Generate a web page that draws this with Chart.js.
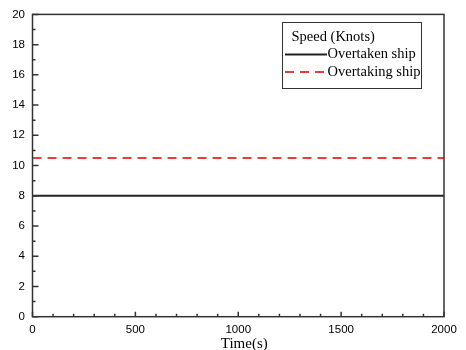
<!DOCTYPE html>
<html>
<head>
<meta charset="utf-8">
<script src="https://cdn.jsdelivr.net/npm/chart.js@4"></script>
<style>
  html, body { margin: 0; padding: 0; background: #fff; }
  #wrap { width: 466px; height: 350px; }
</style>
</head>
<body>
<div id="wrap"><canvas id="speedChart"></canvas></div>
<script>
const timeS = [0, 500, 1000, 1500, 2000];
const overtakenSpeed = [8, 8, 8, 8, 8];
const overtakingSpeed = [10.5, 10.5, 10.5, 10.5, 10.5];
const legendTitle = 'Speed (Knots)';
const xTitle = 'Time(s)';

const INK = '#333';
const SERIF = '"Liberation Serif", "Times New Roman", serif';
const SANS = '"Liberation Sans", Arial, sans-serif';

// frame + inward ticks (major and minor) like an Origin plot
const framePlugin = {
  id: 'frame',
  afterDraw(chart) {
    const ctx = chart.ctx;
    const a = chart.chartArea;
    const x = chart.scales.x, y = chart.scales.y;
    ctx.save();
    ctx.strokeStyle = INK;
    ctx.lineWidth = 1.5;
    ctx.strokeRect(a.left, a.top, a.right - a.left, a.bottom - a.top);
    ctx.beginPath();
    for (let v = 0; v <= 2000; v += 100) {
      const px = x.getPixelForValue(v);
      const len = v % 500 === 0 ? 5 : 3;
      ctx.moveTo(px, a.bottom);
      ctx.lineTo(px, a.bottom - len);
    }
    for (let v = 0; v <= 20; v += 1) {
      const py = y.getPixelForValue(v);
      const len = v % 2 === 0 ? 6 : 3;
      ctx.moveTo(a.left, py);
      ctx.lineTo(a.left + len, py);
    }
    ctx.stroke();
    // axis title, a bit right of centre
    ctx.font = '15px ' + SERIF;
    ctx.fillStyle = '#000';
    ctx.textAlign = 'center';
    ctx.textBaseline = 'alphabetic';
    ctx.fillText(xTitle, (a.left + a.right) / 2 + 6, 348);
    ctx.restore();
  }
};

// boxed legend in the top right corner of the plot
const boxLegend = {
  id: 'boxLegend',
  afterDraw(chart) {
    const ctx = chart.ctx;
    const bx = 282, by = 22, bw = 139, bh = 66;
    ctx.save();
    ctx.fillStyle = '#fff';
    ctx.fillRect(bx, by, bw, bh);
    ctx.strokeStyle = INK;
    ctx.lineWidth = 1;
    ctx.strokeRect(bx + 0.5, by + 0.5, bw, bh);
    ctx.font = '14.5px ' + SERIF;
    ctx.fillStyle = '#000';
    ctx.textBaseline = 'middle';
    ctx.fillText(legendTitle, bx + 9.5, by + 15);
    chart.data.datasets.forEach((ds, i) => {
      const ly = by + 32.5 + i * 17.5;
      ctx.beginPath();
      ctx.strokeStyle = ds.borderColor;
      ctx.lineWidth = 2;
      ctx.setLineDash(ds.borderDash || []);
      ctx.moveTo(bx + 3, ly);
      ctx.lineTo(bx + 45, ly);
      ctx.stroke();
      ctx.setLineDash([]);
      ctx.fillStyle = '#000';
      ctx.fillText(ds.label, bx + 45.5, ly);
    });
    ctx.restore();
  }
};

const ctx = document.getElementById('speedChart').getContext('2d');
const speedChart = new Chart(ctx, {
  type: 'line',
  data: {
    datasets: [
      {
        label: 'Overtaken ship',
        data: timeS.map((t, i) => ({ x: t, y: overtakenSpeed[i] })),
        borderColor: '#222',
        borderWidth: 2,
        pointRadius: 0
      },
      {
        label: 'Overtaking ship',
        data: timeS.map((t, i) => ({ x: t, y: overtakingSpeed[i] })),
        borderColor: '#ee3a3a',
        borderWidth: 2,
        borderDash: [9, 6],
        pointRadius: 0
      }
    ]
  },
  options: {
    responsive: true,
    maintainAspectRatio: false,
    animation: false,
    layout: { padding: { top: 12, right: 22, left: 0, bottom: 0 } },
    scales: {
      x: {
        type: 'linear',
        min: 0,
        max: 2000,
        grid: { display: false, drawTicks: false, tickLength: 0 },
        border: { display: false },
        ticks: {
          stepSize: 500,
          padding: 6.5,
          color: '#000',
          font: { family: SANS, size: 11.5 },
          callback: (v) => String(v)
        },
        afterFit(scale) { scale.height = 33.3; }
      },
      y: {
        min: 0,
        max: 20,
        grid: { display: false, drawTicks: false, tickLength: 0 },
        border: { display: false },
        ticks: {
          stepSize: 2,
          padding: 7.5,
          color: '#000',
          font: { family: SANS, size: 11.5 }
        },
        afterFit(scale) { scale.width = 32.5; }
      }
    },
    plugins: {
      legend: { display: false },
      tooltip: { enabled: false }
    }
  },
  plugins: [framePlugin, boxLegend]
});
</script>
</body>
</html>
